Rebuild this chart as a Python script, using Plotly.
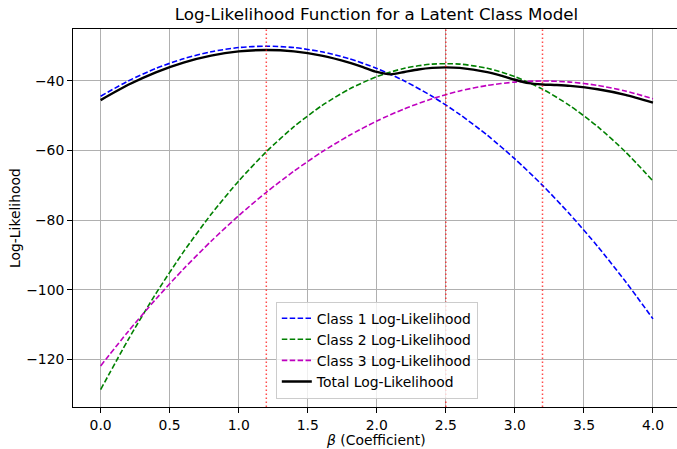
import plotly.graph_objects as go

beta = [0.0, 0.2, 0.4, 0.6, 0.8, 1.0, 1.2, 1.4, 1.6, 1.8, 2.0,
        2.2, 2.4, 2.6, 2.8, 3.0, 3.2, 3.4, 3.6, 3.8, 4.0]
class1 = [-44.4, -40.0, -36.4, -33.6, -31.6, -30.4, -30.0, -30.4, -31.6, -33.6, -36.4,
          -40.0, -44.4, -49.6, -55.6, -62.4, -70.0, -78.4, -87.6, -97.6, -108.4]
class2 = [-128.75, -114.35, -101.15, -89.15, -78.35, -68.75, -60.35, -53.15, -47.15, -42.35, -38.75,
          -36.35, -35.15, -35.15, -36.35, -38.75, -42.35, -47.15, -53.15, -60.35, -68.75]
class3 = [-121.92, -112.0, -102.72, -94.08, -86.08, -78.72, -72.0, -65.92, -60.48, -55.68, -51.52,
          -48.0, -45.12, -42.88, -41.28, -40.32, -40.0, -40.32, -41.28, -42.88, -45.12]
beta_total = [0.0, 0.2, 0.4, 0.6, 0.8, 1.0, 1.2, 1.4, 1.6, 1.8, 1.9, 2.0, 2.1, 2.2, 2.3, 2.4,
              2.5, 2.6, 2.8, 2.9, 3.0, 3.1, 3.2, 3.3, 3.4, 3.6, 3.8, 4.0]
total = [-45.5, -41.1, -37.5, -34.7, -32.7, -31.5, -31.1, -31.5, -32.7, -34.7, -35.99, -37.41,
         -38.1, -37.42, -36.7, -36.25, -36.1, -36.25, -37.44, -38.46, -39.66, -40.63, -41.01,
         -41.17, -41.42, -42.38, -43.98, -46.22]
peak_betas = [1.2, 2.5, 3.2]

series_names = ["Class 1 Log-Likelihood", "Class 2 Log-Likelihood",
                "Class 3 Log-Likelihood", "Total Log-Likelihood"]
x_ticks = [0.0, 0.5, 1.0, 1.5, 2.0, 2.5, 3.0, 3.5, 4.0]
y_ticks = [-120, -100, -80, -60, -40]

FONT = "DejaVu Sans"
W, H = 677, 449
L, R, T, B = 73, 0, 29, 42

fig = go.Figure()

styles = [
    (beta, class1, "#0000ff", "5.5px,2.4px", 1.6),
    (beta, class2, "#008000", "5.5px,2.4px", 1.6),
    (beta, class3, "#bf00bf", "5.5px,2.4px", 1.6),
    (beta_total, total, "#000000", "solid", 2.4),
]
for (xs, vals, col, dash, w), name in zip(styles, series_names):
    fig.add_trace(go.Scatter(x=xs, y=vals, mode="lines", name=name,
                             line=dict(color=col, dash=dash, width=w, shape="spline", smoothing=0.7)))

for pb in peak_betas:
    fig.add_vline(x=pb, line=dict(color="rgba(255,0,0,0.7)", width=1.5, dash="1.5px,2.5px"))

axis_common = dict(showline=True, linecolor="black", linewidth=1, mirror=True,
                   ticks="outside", ticklen=4.9, tickwidth=1, tickcolor="black",
                   showgrid=True, gridcolor="#b0b0b0", gridwidth=0.8, zeroline=False,
                   automargin=False,
                   tickfont=dict(family=FONT, size=13.9, color="black"))

fig.update_layout(
    width=W, height=H,
    margin=dict(l=L, r=R, t=T, b=B),
    paper_bgcolor="white", plot_bgcolor="white",
    font=dict(family=FONT, color="black"),
    title=dict(text="Log-Likelihood Function for a Latent Class Model",
               font=dict(family=FONT, size=16.7, color="black"),
               x=(73 + 680) / 2 / W, xanchor="center",
               y=1 - 14 / H, yanchor="middle", yref="container"),
    xaxis=dict(range=[-0.2, 4.174], tickvals=x_ticks,
               ticktext=[f"{v:.1f}" for v in x_ticks], **axis_common),
    yaxis=dict(range=[-133.74, -25.06], tickvals=y_ticks,
               ticktext=[f"\u2212{abs(v)}" for v in y_ticks], **axis_common),
    legend=dict(x=0.503, xanchor="center", y=0.022, yanchor="bottom",
                bgcolor="rgba(255,255,255,0.8)", bordercolor="#cccccc", borderwidth=1,
                font=dict(family=FONT, size=13.9, color="black"),
                tracegroupgap=0, itemwidth=30),
    showlegend=True,
    annotations=[
        dict(text="<i>β</i> (Coefficient)", xref="paper", yref="paper",
             x=(376 - L) / (W - L - R), y=-(440 - (H - B)) / (H - T - B),
             xanchor="center", yanchor="middle", showarrow=False,
             font=dict(family=FONT, size=13.9, color="black")),
        dict(text="Log-Likelihood", xref="paper", yref="paper",
             x=-(L - 15) / (W - L - R), y=0.5, textangle=-90,
             xanchor="center", yanchor="middle", showarrow=False,
             font=dict(family=FONT, size=13.9, color="black")),
    ],
)

fig.write_html("out.html", config={"displayModeBar": False},
               post_script="document.body.style.margin='0';document.body.style.overflow='hidden';")
